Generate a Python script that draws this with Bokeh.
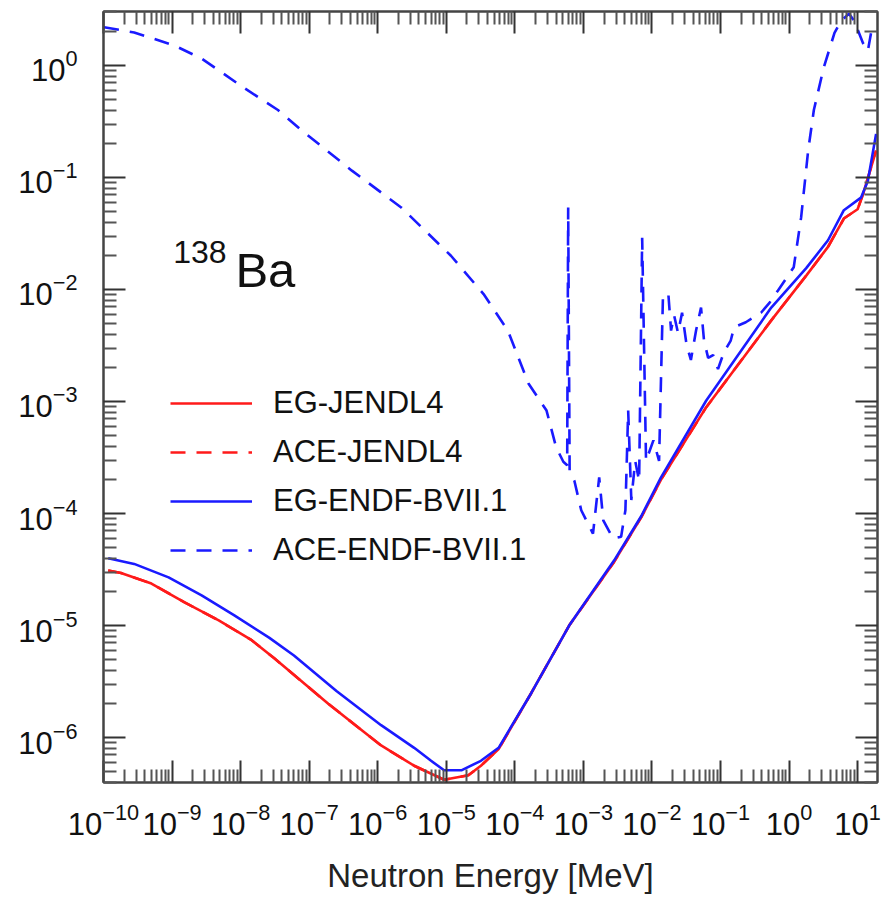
from bokeh.plotting import figure
from bokeh.models import (FixedTicker, CustomJSTickFormatter, LogTickFormatter, LogAxis, Legend,
                          LegendItem, Range1d)
from bokeh.core.properties import value
from bokeh.embed import file_html
from bokeh.resources import INLINE

# ---------------- data ----------------
eg_jendl_E = [1.17e-10, 1.8e-10, 5.0e-10, 1.5e-9, 4.8e-9, 1.45e-8, 3.1e-8, 1.9e-7,
              1.12e-6, 3.4e-6, 9.3e-6, 2.1e-5, 3.2e-5, 5.8e-5, 1.74e-4, 6.2e-4,
              2.8e-3, 7.0e-3, 1.35e-2, 6.2e-2, 0.55, 1.78, 3.7, 6.3, 10.0, 12.0, 18.6]
eg_jendl_Y = [3.1e-5, 2.95e-5, 2.37e-5, 1.62e-5, 1.11e-5, 7.4e-6, 5.1e-6, 2.0e-6,
              8.5e-7, 5.6e-7, 4.2e-7, 4.6e-7, 5.6e-7, 7.9e-7, 2.5e-6, 1.0e-5,
              3.7e-5, 9.3e-5, 2.0e-4, 8.9e-4, 5.3e-3, 1.33e-2, 2.4e-2, 4.3e-2, 5.2e-2, 7.1e-2, 0.174]

# ACE-JENDL4 lies under EG-JENDL4 (no separate red dashes are visible)
ace_jendl_E = [1.17e-10, 1.8e-10, 5.0e-10, 1.5e-9, 4.8e-9, 1.45e-8, 3.1e-8, 1.9e-7,
               1.12e-6, 3.4e-6, 9.3e-6, 2.1e-5, 3.2e-5, 5.8e-5, 1.74e-4, 6.2e-4,
               2.8e-3, 7.0e-3, 1.35e-2, 6.2e-2, 0.55, 1.78, 3.7, 6.3, 10.0, 12.0, 18.6]
ace_jendl_Y = [3.1e-5, 2.95e-5, 2.37e-5, 1.62e-5, 1.11e-5, 7.4e-6, 5.1e-6, 2.0e-6,
               8.5e-7, 5.6e-7, 4.2e-7, 4.6e-7, 5.6e-7, 7.9e-7, 2.5e-6, 1.0e-5,
               3.7e-5, 9.3e-5, 2.0e-4, 8.9e-4, 5.3e-3, 1.33e-2, 2.4e-2, 4.3e-2, 5.2e-2, 7.1e-2, 0.174]

eg_endf_E = [1.17e-10, 2.8e-10, 8.9e-10, 2.7e-9, 8.1e-9, 2.6e-8, 6.0e-8, 2.5e-7,
             1.12e-6, 3.4e-6, 6.0e-6, 9.3e-6, 1.66e-5, 3.2e-5, 5.8e-5, 1.74e-4, 6.2e-4,
             2.8e-3, 7.0e-3, 1.35e-2, 6.2e-2, 0.55, 1.78, 3.7, 6.3, 11.2, 14.1, 18.6]
eg_endf_Y = [3.98e-5, 3.55e-5, 2.69e-5, 1.86e-5, 1.23e-5, 7.8e-6, 5.4e-6, 2.6e-6,
             1.29e-6, 8.1e-7, 6.2e-7, 5.1e-7, 5.1e-7, 6.2e-7, 8.1e-7, 2.5e-6, 1.0e-5,
             3.8e-5, 9.5e-5, 2.09e-4, 1.02e-3, 6.9e-3, 1.55e-2, 2.75e-2, 5.1e-2, 6.6e-2, 9.3e-2, 0.245]

ace_endf_E = [1.02e-10, 2.8e-10, 1.07e-9, 2.7e-9, 1.15e-8, 3.5e-8, 7.8e-8, 4.2e-7, 2.2e-6,
              1.17e-5, 3.5e-5, 7.9e-5, 1.58e-4, 2.9e-4, 4.0e-4, 5.1e-4, 5.8e-4, 6.0e-4, 6.3e-4,
              7.4e-4, 9.3e-4, 1.38e-3, 1.70e-3, 1.95e-3, 2.7e-3, 3.55e-3, 4.1e-3, 4.5e-3, 5.0e-3,
              5.7e-3, 6.5e-3, 7.2e-3, 8.2e-3, 1.05e-2, 1.27e-2, 1.45e-2, 1.74e-2, 1.9e-2, 2.1e-2,
              2.4e-2, 2.75e-2, 3.2e-2, 3.7e-2, 4.4e-2, 5.2e-2, 5.75e-2, 6.6e-2, 7.8e-2, 9.2e-2,
              0.112, 0.141, 0.158, 0.234, 0.39, 0.51, 0.69, 1.17, 1.5, 1.9, 2.3, 3.2, 4.6, 5.75,
              7.5, 8.9, 12.0, 14.1, 15.7, 18.6]
ace_endf_Y = [2.19, 1.97, 1.51, 1.15, 0.624, 0.40, 0.263, 0.115, 0.054,
              0.020, 9.1e-3, 4.3e-3, 1.45e-3, 8.3e-4, 3.9e-4, 2.9e-4, 2.7e-4, 5.4e-2, 2.4e-4,
              1.95e-4, 1.07e-4, 6.6e-5, 2.1e-4, 8.7e-5, 6.0e-5, 6.2e-5, 1.07e-4, 8.3e-4, 1.32e-4,
              2.95e-4, 1.95e-4, 2.9e-2, 2.95e-4, 4.5e-4, 2.95e-4, 9.1e-3, 8.9e-3, 4.3e-3, 5.9e-3,
              4.1e-3, 6.2e-3, 3.2e-3, 2.35e-3, 4.3e-3, 6.9e-3, 3.5e-3, 2.45e-3, 2.6e-3, 1.95e-3,
              2.75e-3, 3.5e-3, 4.6e-3, 5.1e-3, 6.2e-3, 7.5e-3, 9.8e-3, 1.58e-2, 4.4e-2, 0.174, 0.40, 0.955, 1.95, 2.5,
              2.9, 2.5, 1.58, 1.35, 1.95, 2.19]

x_decades = list(range(-10, 2))
y_decades = list(range(-6, 1))
series_labels = ["EG-JENDL4", "ACE-JENDL4", "EG-ENDF-BVII.1", "ACE-ENDF-BVII.1"]
x_title = "Neutron Energy [MeV]"
nuclide_mass = ["138"]
nuclide_symbol = ["Ba"]
mass_pos = ([1.04e-9], [0.0214])
symbol_pos = ([8.4e-9], [0.0148])

# ---------------- figure ----------------
FONT = "Liberation Sans"
p = figure(width=887, height=897, x_axis_type="log", y_axis_type="log",
           x_range=Range1d(1e-10, 19.5), y_range=Range1d(3.97e-7, 3.03),
           output_backend="svg", toolbar_location=None,
           min_border_left=103, min_border_right=10, min_border_top=11, min_border_bottom=115)
p.background_fill_color = "white"
p.border_fill_color = "white"
p.grid.visible = False
p.outline_line_color = "#444444"
p.outline_line_width = 2

xt = FixedTicker(ticks=[10.0 ** d for d in x_decades],
                 minor_ticks=[k * 10.0 ** d for d in x_decades for k in range(2, 10)])
yt = FixedTicker(ticks=[10.0 ** d for d in y_decades],
                 minor_ticks=[k * 10.0 ** d for d in range(-7, 1) for k in range(2, 10)])

blank = CustomJSTickFormatter(code="return '';")


def style_axis(ax, labels=True):
    ax.major_tick_in = 22
    ax.major_tick_out = 0
    ax.minor_tick_in = 13
    ax.minor_tick_out = 0
    ax.major_tick_line_color = "#333333"
    ax.minor_tick_line_color = "#555555"
    ax.major_tick_line_width = 2
    ax.minor_tick_line_width = 2
    ax.axis_line_color = "#444444"
    ax.axis_line_width = 2
    if labels:
        ax.formatter = LogTickFormatter(min_exponent=0)
        ax.major_label_text_font = FONT
        ax.major_label_text_font_size = "31px"
        ax.major_label_text_color = "#111111"
    else:
        ax.formatter = blank
        ax.major_label_text_font_size = "0px"
        ax.major_label_standoff = 0


xa = p.xaxis[0]
xa.ticker = xt
style_axis(xa)
xa.major_label_standoff = 20
xa.axis_label = x_title
xa.axis_label_text_font = FONT
xa.axis_label_text_font_size = "33px"
xa.axis_label_text_font_style = "normal"
xa.axis_label_text_color = "#222222"
xa.axis_label_standoff = 19

ya = p.yaxis[0]
ya.ticker = yt
style_axis(ya)
ya.major_label_standoff = 26

top = LogAxis(ticker=xt)
style_axis(top, labels=False)
p.add_layout(top, "above")
right = LogAxis(ticker=yt)
style_axis(right, labels=False)
p.add_layout(right, "right")

# ---------------- curves ----------------
r1 = p.line(eg_jendl_E, eg_jendl_Y, line_color="#ff1a1a", line_width=2.6)
r2 = p.line(ace_jendl_E, ace_jendl_Y, line_color="#ff1a1a", line_width=2.6, line_dash="15 11")
r3 = p.line(eg_endf_E, eg_endf_Y, line_color="#1a1aff", line_width=2.6)
r4 = p.line(ace_endf_E, ace_endf_Y, line_color="#1a1aff", line_width=2.6, line_dash="15 11")

legend = Legend(items=[LegendItem(label=l, renderers=[r]) for l, r in zip(series_labels, [r1, r2, r3, r4])],
                location=(67, 212), orientation="vertical")
legend.background_fill_alpha = 0
legend.border_line_alpha = 0
legend.padding = 0
legend.margin = 0
legend.spacing = 9
legend.glyph_width = 82
legend.glyph_height = 40
legend.label_height = 40
legend.label_standoff = 21
legend.label_text_font = FONT
legend.label_text_font_size = "31px"
legend.label_text_color = "#111111"
p.add_layout(legend, "center")

p.text(x=mass_pos[0], y=mass_pos[1], text=nuclide_mass, text_font=value(FONT),
       text_font_size="32px", text_color="#111111", text_baseline="alphabetic", text_align="left")
p.text(x=symbol_pos[0], y=symbol_pos[1], text=nuclide_symbol, text_font=value(FONT),
       text_font_size="49px", text_color="#111111", text_baseline="alphabetic", text_align="left")

open("out.html", "w").write(file_html(p, INLINE))
